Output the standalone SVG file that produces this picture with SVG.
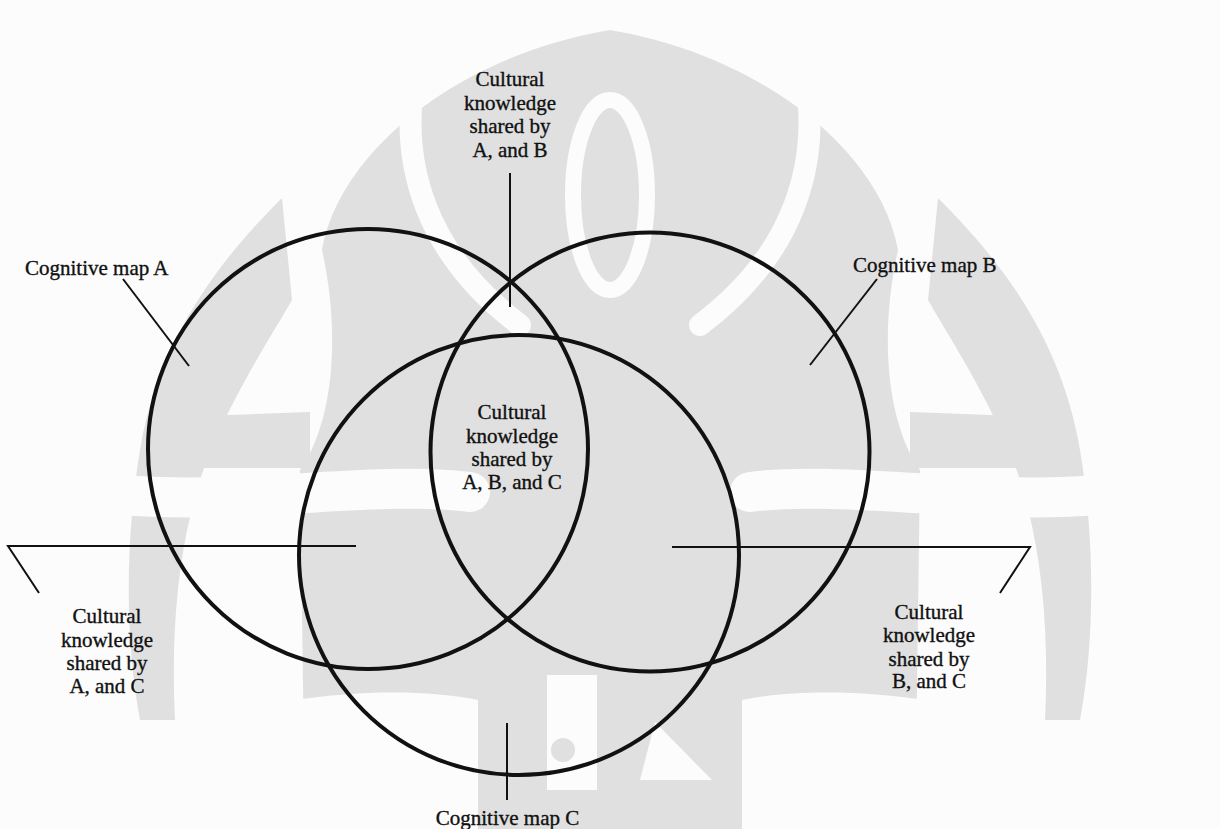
<svg xmlns="http://www.w3.org/2000/svg" width="1220" height="829" viewBox="0 0 1220 829">
  <style>
    .map { fill: none; stroke: #111; stroke-width: 4; }
    .lead { fill: none; stroke: #111; stroke-width: 2; stroke-linejoin: miter; }
    text { font-family: "Liberation Serif", "Times New Roman", serif; font-size: 21px; fill: #111; stroke: #111; stroke-width: 0.35; }
    .c { text-anchor: middle; }
    .wm { fill: #e0e0e0; stroke: none; }
    .gap { fill: none; stroke: #fcfcfc; stroke-linecap: round; }
    .cut { fill: #fcfcfc; stroke: none; }
  </style>
  <rect width="1220" height="829" fill="#fcfcfc"/>

  <!-- pale emblem printed behind the figure -->
  <g id="emblem">
    <path class="wm" d="M 305 829 L 300 470 C 335 420, 340 330, 322 250 C 340 150, 460 55, 610 30 C 760 55, 880 150, 898 250 C 880 330, 885 420, 920 470 L 915 829 Z"/>
    <path class="wm" d="M 282 198 C 230 250, 160 330, 140 450 C 125 540, 125 640, 140 720 L 175 720 C 170 620, 180 520, 215 440 C 245 375, 275 330, 292 300 Z"/>
    <path class="wm" d="M 938 198 C 990 250, 1060 330, 1080 450 C 1095 540, 1095 640, 1080 720 L 1045 720 C 1050 620, 1040 520, 1005 440 C 975 375, 945 330, 928 300 Z"/>
    <path class="wm" d="M 150 418 L 310 412 L 310 468 L 150 468 Z"/>
    <path class="wm" d="M 1070 418 L 910 412 L 910 468 L 1070 468 Z"/>
    <!-- light bands cut through the emblem -->
    <ellipse class="gap" cx="610" cy="195" rx="37" ry="95" stroke-width="16"/>
    <path class="gap" stroke-width="22" d="M 412 95 C 405 160, 420 250, 520 325"/>
    <path class="gap" stroke-width="22" d="M 808 95 C 815 160, 800 250, 700 325"/>
    <path class="gap" stroke-width="40" d="M 120 495 C 250 505, 380 480, 470 492"/>
    <path class="gap" stroke-width="40" d="M 1100 495 C 970 505, 840 480, 750 492"/>
    <path class="cut" d="M 296 700 C 360 690, 430 690, 478 700 L 478 829 L 296 829 Z"/>
    <path class="cut" d="M 924 700 C 860 690, 790 690, 742 700 L 742 829 L 924 829 Z"/>
    <path class="cut" d="M 547 675 L 597 675 L 597 790 L 547 790 Z"/>
    <path class="cut" d="M 655 722 L 712 780 L 640 780 Z"/>
    <circle class="wm" cx="563" cy="750" r="12"/>
  </g>

  <!-- three overlapping cognitive maps -->
  <g id="map-a"><circle class="map" cx="368" cy="449" r="220"/></g>
  <g id="map-b"><circle class="map" cx="650" cy="452" r="219.5"/></g>
  <g id="map-c"><circle class="map" cx="519" cy="555" r="220"/></g>

  <!-- leader lines -->
  <g id="connectors">
    <line class="lead" x1="123" y1="279" x2="189" y2="366"/>
    <line class="lead" x1="877" y1="279" x2="810" y2="365"/>
    <line class="lead" x1="510" y1="173" x2="510" y2="307"/>
    <line class="lead" x1="507" y1="723" x2="507" y2="800"/>
    <polyline class="lead" points="356,546 8,546 39,593"/>
    <polyline class="lead" points="672,547 1030,547 1000,593"/>
  </g>

  <g id="label-a"><text x="25" y="275">Cognitive map A</text></g>
  <g id="label-b"><text x="853" y="272">Cognitive map B</text></g>
  <g id="label-c"><text class="c" x="507.5" y="825">Cognitive map C</text></g>

  <g id="shared-ab">
    <text class="c" x="510" y="86">Cultural</text>
    <text class="c" x="510" y="109.5">knowledge</text>
    <text class="c" x="510" y="133">shared by</text>
    <text class="c" x="510" y="156.5">A, and B</text>
  </g>
  <g id="shared-abc">
    <text class="c" x="512" y="419">Cultural</text>
    <text class="c" x="512" y="443">knowledge</text>
    <text class="c" x="512" y="466">shared by</text>
    <text class="c" x="512" y="489">A, B, and C</text>
  </g>
  <g id="shared-ac">
    <text class="c" x="107" y="623">Cultural</text>
    <text class="c" x="107" y="647">knowledge</text>
    <text class="c" x="107" y="670">shared by</text>
    <text class="c" x="107" y="693">A, and C</text>
  </g>
  <g id="shared-bc">
    <text class="c" x="929" y="619">Cultural</text>
    <text class="c" x="929" y="642">knowledge</text>
    <text class="c" x="929" y="666">shared by</text>
    <text class="c" x="929" y="688">B, and C</text>
  </g>
</svg>
